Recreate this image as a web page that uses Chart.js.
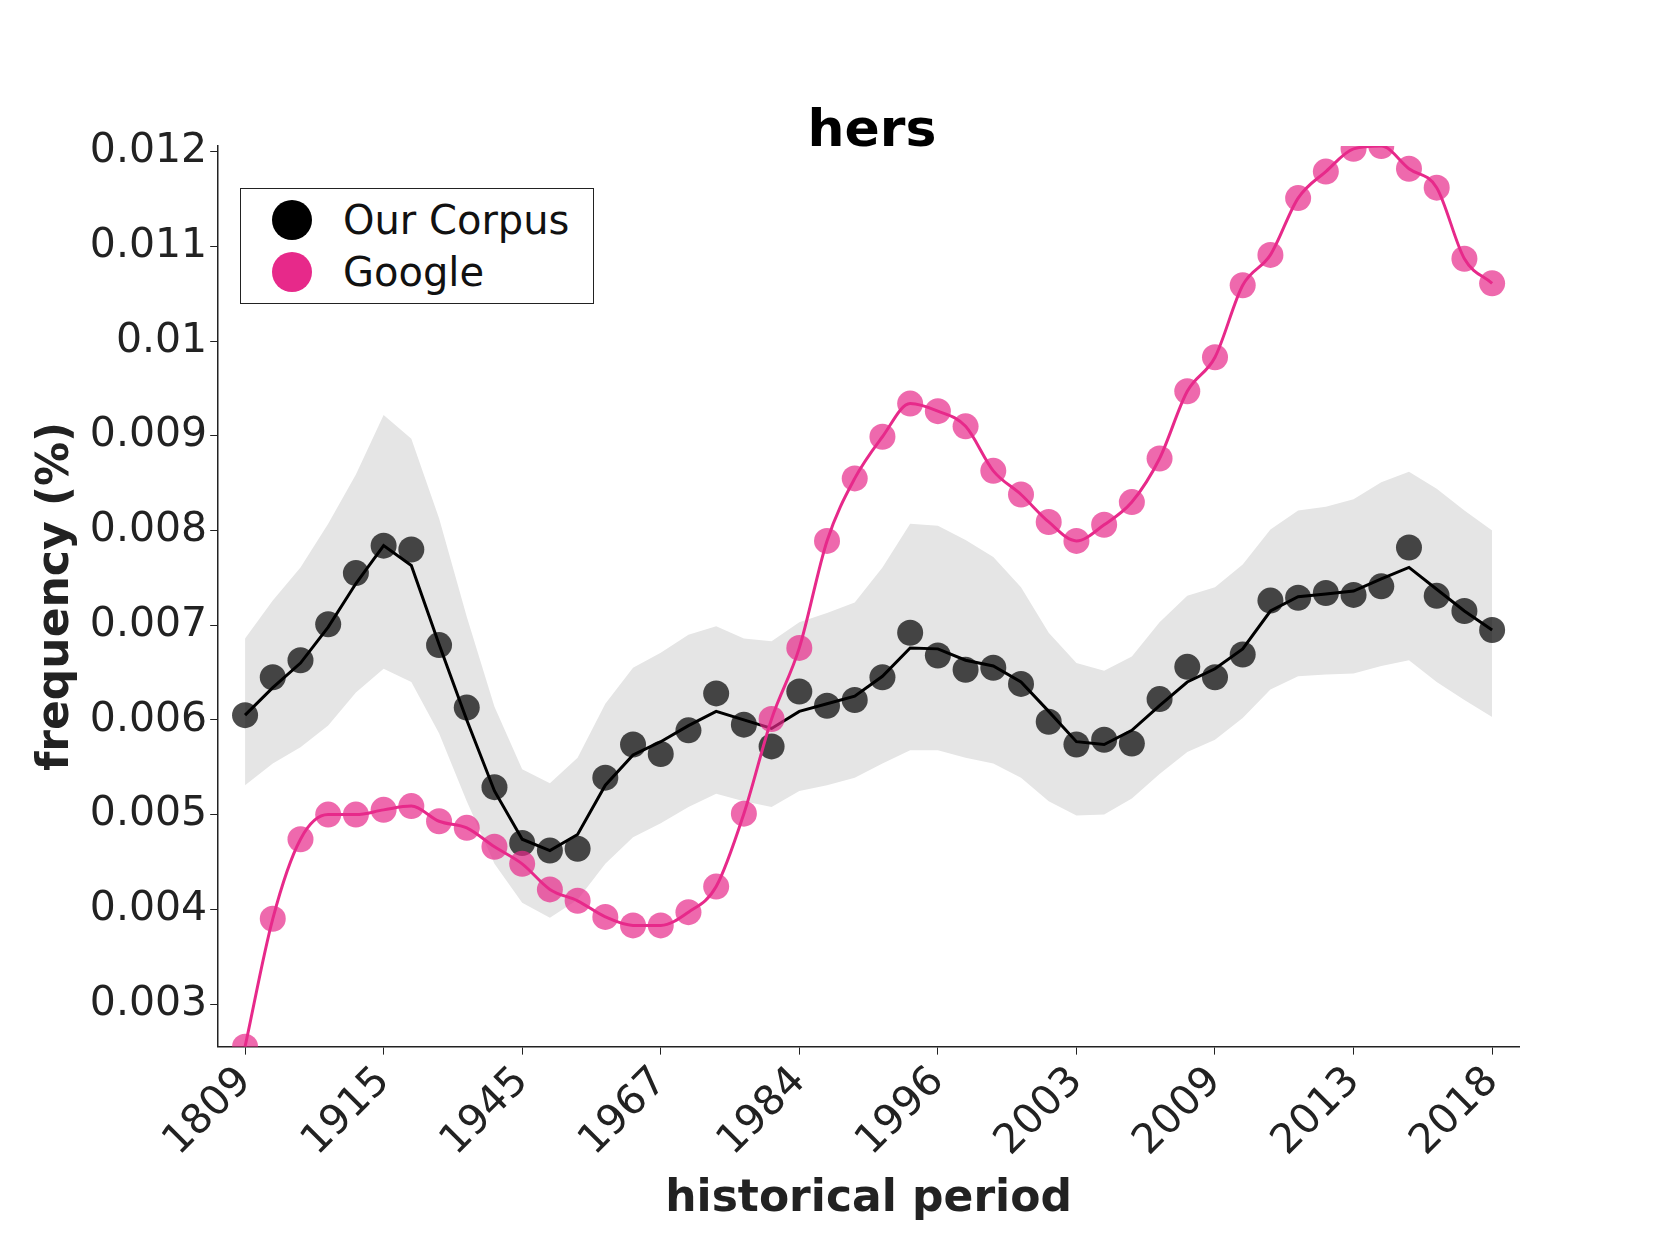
<!DOCTYPE html>
<html>
<head>
<meta charset="utf-8">
<script src="https://cdn.jsdelivr.net/npm/chart.js@4"></script>
<style>
  body { margin: 0; background: #fff; }
  #wrap { position: relative; width: 1680px; height: 1260px; }
  #title { position: absolute; left: 672px; width: 400px; top: 98px; text-align: center;
           font-family: "DejaVu Sans", sans-serif; font-weight: bold; font-size: 52px; color: #000; }
  #legend { position: absolute; left: 240px; top: 188px; width: 354px; height: 116px;
            border: 1.5px solid #222; background: #fff; font-family: "DejaVu Sans", sans-serif;
            font-size: 40px; color: #111; box-sizing: border-box; }
  .row { position: absolute; left: 0; height: 54px; line-height: 54px; }
  .dot { position: absolute; left: 31px; top: 7px; width: 40px; height: 40px; border-radius: 50%; }
  .lbl { position: absolute; left: 102px; white-space: nowrap; }
</style>
</head>
<body>
<div id="wrap">
  <canvas id="c" width="1680" height="1260"></canvas>
  <div id="title">hers</div>
  <div id="legend">
    <div class="row" style="top:4px"><div class="dot" style="background:#000"></div><span class="lbl">Our Corpus</span></div>
    <div class="row" style="top:56px"><div class="dot" style="background:#e7298a"></div><span class="lbl">Google</span></div>
  </div>
</div>
<script>
// 46 historical periods, only every 5th is labelled
const tickLabels = ['1809', '1915', '1945', '1967', '1984', '1996', '2003', '2009', '2013', '2018'];

const corpusDots = [0.00605, 0.00645, 0.00663, 0.00701, 0.00755, 0.00784, 0.00780, 0.00679, 0.00613, 0.00529,
  0.00470, 0.00462, 0.00464, 0.00539, 0.00574, 0.00564, 0.00589, 0.00628, 0.00595, 0.00572,
  0.00630, 0.00615, 0.00621, 0.00645, 0.00692, 0.00668, 0.00653, 0.00655, 0.00638, 0.00598,
  0.00574, 0.00579, 0.00575, 0.00622, 0.00656, 0.00645, 0.00669, 0.00726, 0.00729, 0.00734,
  0.00732, 0.00741, 0.00782, 0.00731, 0.00715, 0.00695];

const corpusLine = [0.00605, 0.00634, 0.00660, 0.00698, 0.00744, 0.00784, 0.00763, 0.00680, 0.00600, 0.00525,
  0.00474, 0.00462, 0.00479, 0.00531, 0.00563, 0.00577, 0.00594, 0.00609, 0.00600, 0.00591,
  0.00609, 0.00617, 0.00625, 0.00646, 0.00676, 0.00675, 0.00663, 0.00657, 0.00640, 0.00609,
  0.00577, 0.00574, 0.00589, 0.00615, 0.00640, 0.00654, 0.00675, 0.00715, 0.00730, 0.00733,
  0.00736, 0.00749, 0.00761, 0.00738, 0.00715, 0.00695];

const bandUpper = [0.00686, 0.00726, 0.00761, 0.00807, 0.00859, 0.00922, 0.00897, 0.00813, 0.00709, 0.00614,
  0.00548, 0.00533, 0.00560, 0.00617, 0.00655, 0.00671, 0.00690, 0.00699, 0.00686, 0.00683,
  0.00703, 0.00713, 0.00724, 0.00761, 0.00807, 0.00805, 0.00790, 0.00772, 0.00740, 0.00692,
  0.00660, 0.00652, 0.00667, 0.00703, 0.00731, 0.00740, 0.00764, 0.00801, 0.00821, 0.00825,
  0.00833, 0.00851, 0.00862, 0.00844, 0.00821, 0.00800];

const bandLower = [0.00531, 0.00554, 0.00571, 0.00594, 0.00629, 0.00654, 0.00640, 0.00586, 0.00514, 0.00448,
  0.00407, 0.00391, 0.00410, 0.00448, 0.00476, 0.00491, 0.00508, 0.00522, 0.00514, 0.00508,
  0.00525, 0.00531, 0.00539, 0.00554, 0.00568, 0.00568, 0.00560, 0.00554, 0.00539, 0.00514,
  0.00499, 0.00500, 0.00517, 0.00543, 0.00566, 0.00579, 0.00602, 0.00632, 0.00646, 0.00648,
  0.00649, 0.00657, 0.00663, 0.00640, 0.00621, 0.00603];

const googleDots = [0.00255, 0.00390, 0.00474, 0.00500, 0.00500, 0.00505, 0.00509, 0.00493, 0.00486, 0.00466,
  0.00448, 0.00421, 0.00409, 0.00392, 0.00383, 0.00383, 0.00397, 0.00424, 0.00501, 0.00601,
  0.00676, 0.00789, 0.00855, 0.00899, 0.00934, 0.00926, 0.00910, 0.00863, 0.00838, 0.00809,
  0.00789, 0.00806, 0.00830, 0.00876, 0.00947, 0.00983, 0.01059, 0.01091, 0.01151, 0.01179,
  0.01203, 0.01206, 0.01182, 0.01162, 0.01087, 0.01061];

const yTicks = [0.003, 0.004, 0.005, 0.006, 0.007, 0.008, 0.009, 0.010, 0.011, 0.012];

const pts = arr => arr.map((v, i) => ({ x: i, y: v }));
const noPt = { pointRadius: 0, pointHoverRadius: 0 };
const font = { family: 'DejaVu Sans', size: 41 };

new Chart(document.getElementById('c'), {
  type: 'line',
  data: {
    datasets: [
      { data: pts(bandUpper), borderWidth: 0, backgroundColor: '#e5e5e5', fill: '+1', order: 10, ...noPt },
      { data: pts(bandLower), borderWidth: 0, fill: false, order: 10, ...noPt },
      { data: pts(corpusLine), borderColor: '#000', borderWidth: 3, tension: 0, fill: false, order: 3, ...noPt },
      { data: pts(googleDots), borderColor: '#e7298a', borderWidth: 3, fill: false,
        cubicInterpolationMode: 'monotone', order: 1, ...noPt },
      { data: pts(corpusDots), showLine: false, pointRadius: 13, borderWidth: 0,
        pointBackgroundColor: 'rgba(0,0,0,0.7)', order: 2 },
      { data: pts(googleDots), showLine: false, pointRadius: 13, borderWidth: 0,
        pointBackgroundColor: 'rgba(231,41,138,0.7)', order: 0 }
    ]
  },
  options: {
    responsive: false,
    animation: false,
    layout: { padding: { left: 26, right: 161, top: 146, bottom: 30 } },
    plugins: {
      legend: { display: false },
      tooltip: { enabled: false }
    },
    scales: {
      x: {
        type: 'linear', min: -0.97, max: 45.97,
        afterBuildTicks: ax => { ax.ticks = tickLabels.map((_, i) => ({ value: i * 5 })); },
        ticks: { callback: v => tickLabels[v / 5], maxRotation: 45, minRotation: 45,
                 color: '#222', font: font, autoSkip: false },
        grid: { drawOnChartArea: false, color: '#222', tickLength: 8 },
        border: { color: '#222', width: 1.5 },
        title: { display: true, text: 'historical period', color: '#222',
                 font: { family: 'DejaVu Sans', size: 44, weight: 'bold' } }
      },
      y: {
        min: 0.00255, max: 0.01206,
        afterBuildTicks: ax => { ax.ticks = yTicks.map(v => ({ value: v })); },
        ticks: { callback: v => String(+v.toFixed(3)), color: '#222', font: font },
        grid: { drawOnChartArea: false, color: '#222', tickLength: 8 },
        border: { color: '#222', width: 1.5 },
        title: { display: true, text: 'frequency (%)', color: '#222',
                 font: { family: 'DejaVu Sans', size: 44, weight: 'bold' } }
      }
    }
  }
});
</script>
</body>
</html>
